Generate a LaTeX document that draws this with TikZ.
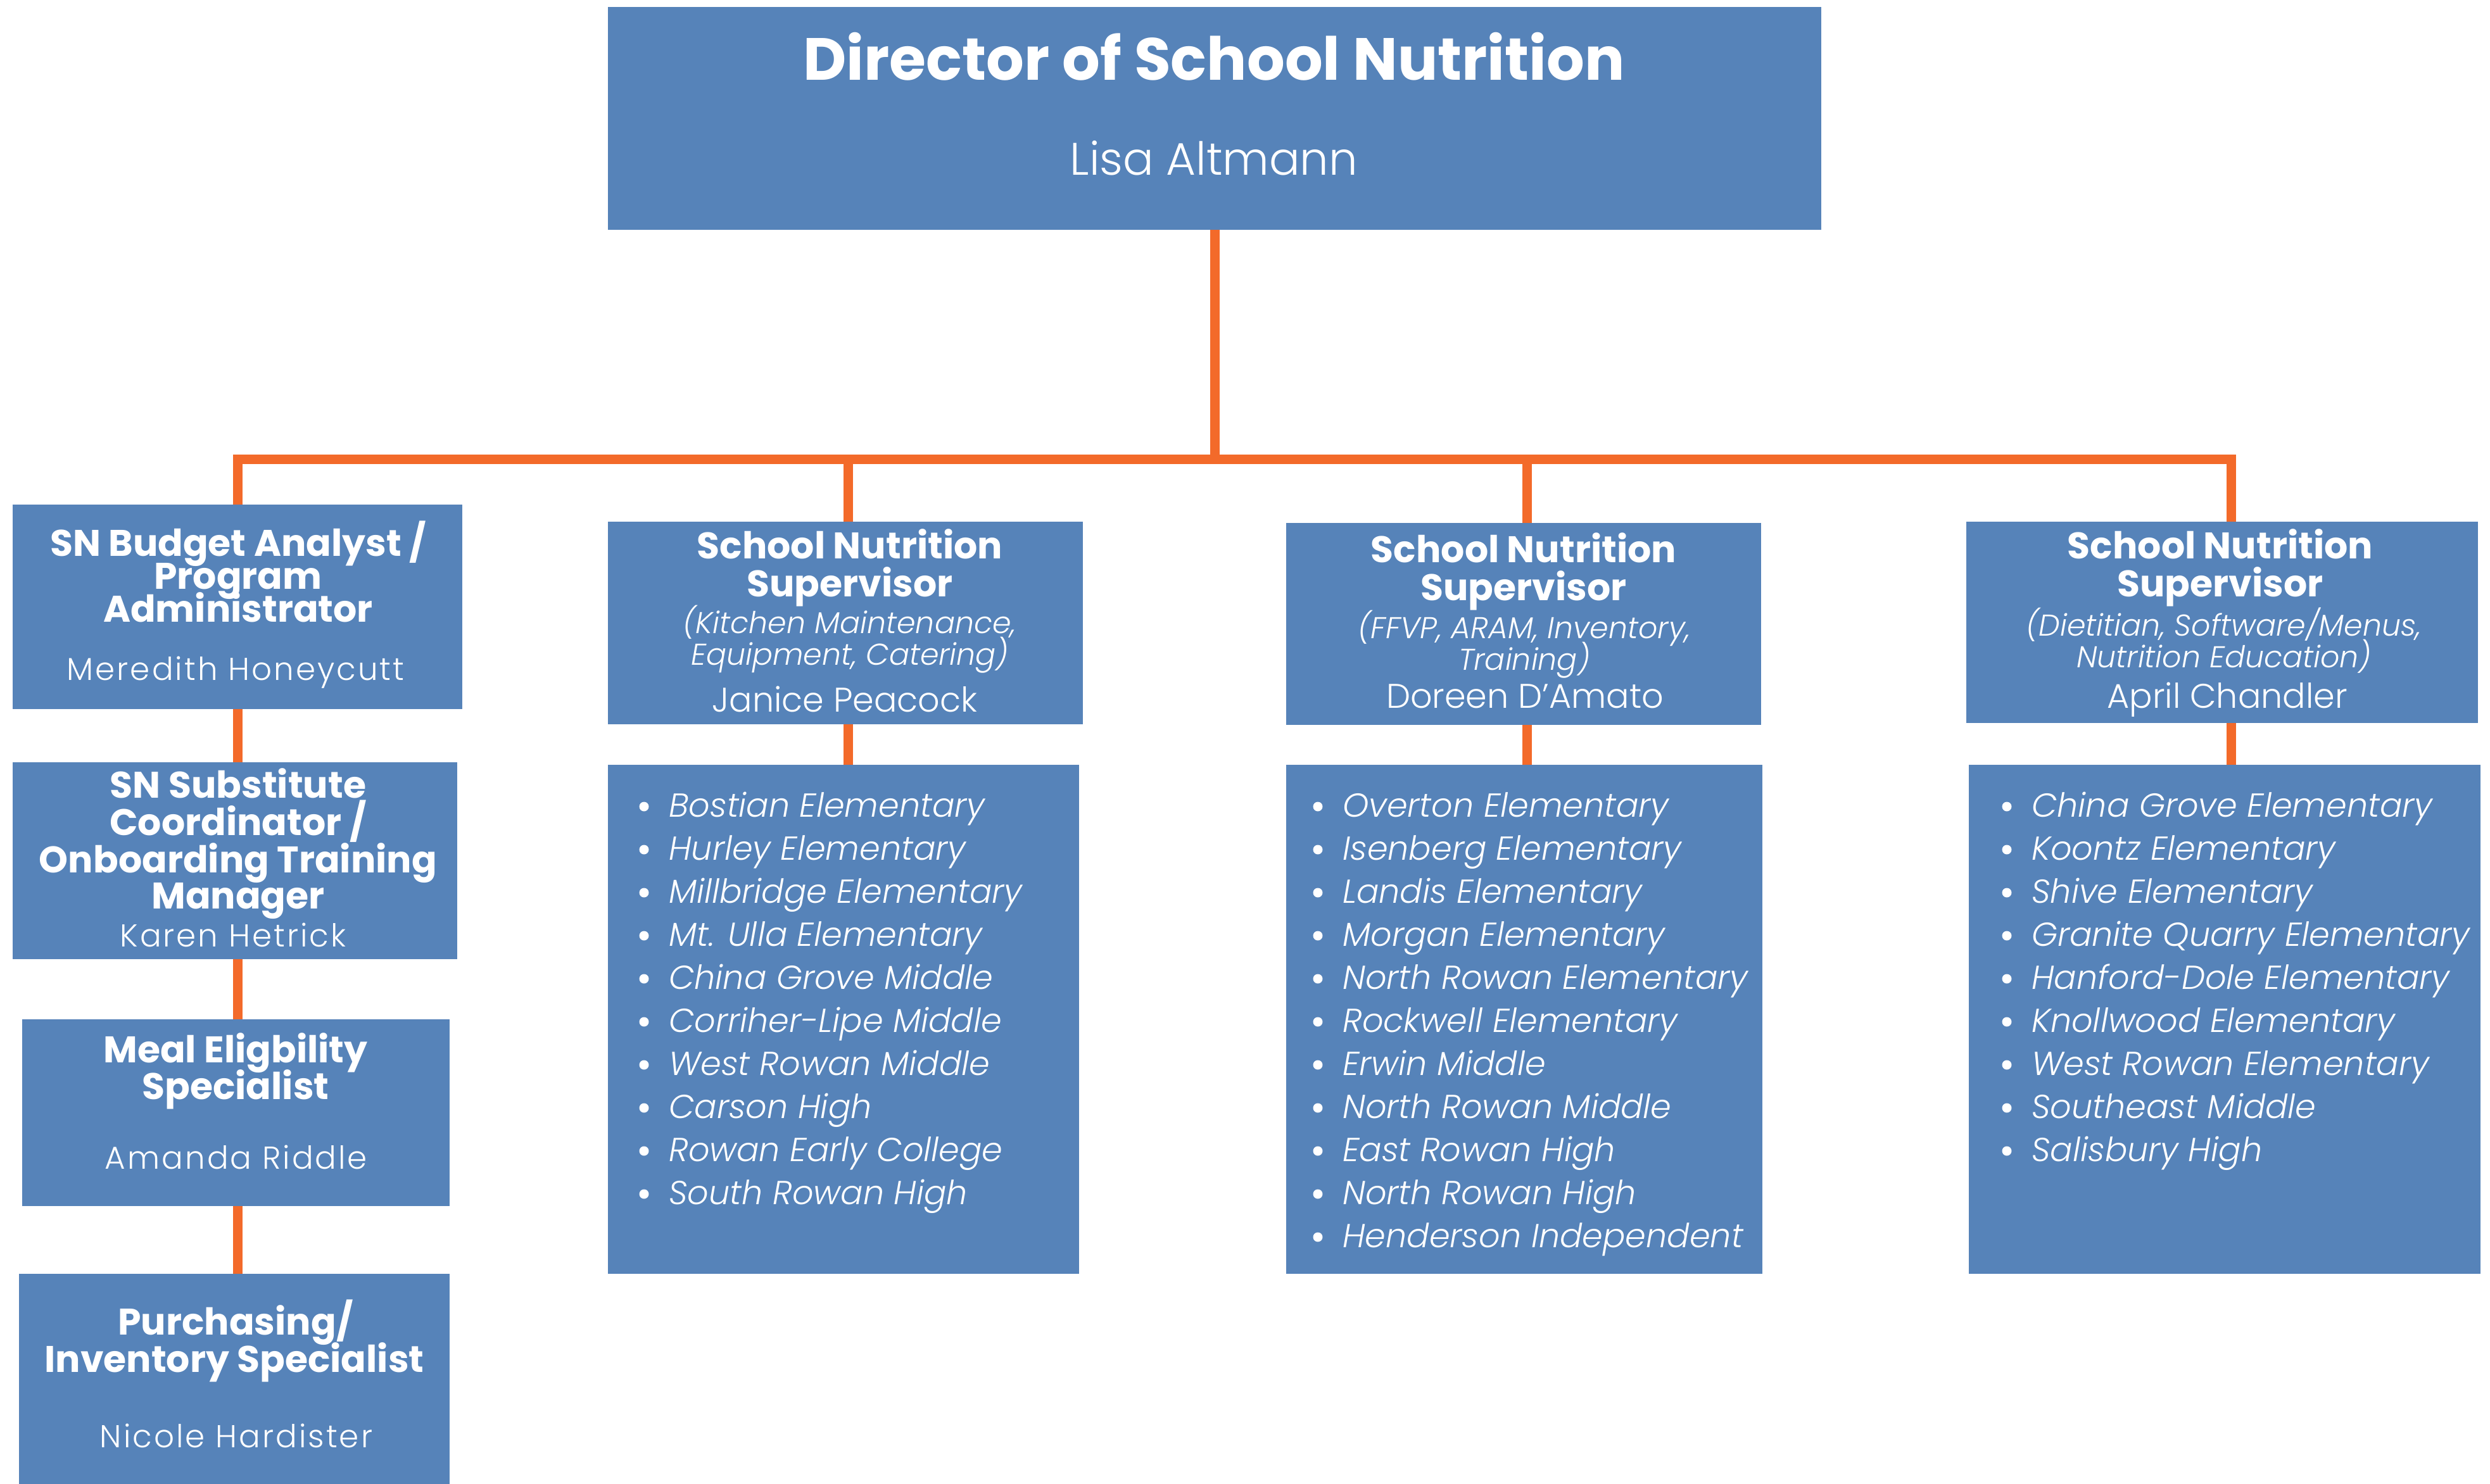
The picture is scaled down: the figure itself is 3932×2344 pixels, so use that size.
\documentclass[tikz,border=0pt]{standalone}
\usepackage{fontspec}
\setmainfont{Poppins}
\newfontfamily\plight{Poppins Light}[ItalicFont={Poppins Light Italic}]
\newfontfamily\plightsp{Poppins Light}[LetterSpace=6]
\definecolor{boxblue}{HTML}{5683B9}
\definecolor{orng}{HTML}{F36A2A}
\begin{document}
\begin{tikzpicture}[x=1pt,y=-1pt,
  box/.style={rectangle, fill=boxblue, draw=none, inner sep=0pt},
  link/.style={draw=orng, line width=15pt},
  txt/.style={text=white, inner sep=0pt, anchor=base},
  dtitle/.style={txt, font=\fontsize{94}{100}\selectfont\bfseries},
  dname/.style={txt, font=\plight\fontsize{72}{80}\selectfont},
  ltitle/.style={txt, font=\fontsize{58.5}{60}\selectfont\bfseries},
  lname/.style={txt, font=\plightsp\fontsize{50}{60}\selectfont},
  stitle/.style={txt, font=\fontsize{58.5}{60}\selectfont\bfseries},
  ssub/.style={txt, font=\plight\itshape\fontsize{47.5}{50}\selectfont},
  sname/.style={txt, font=\plight\fontsize{54}{60}\selectfont},
  item/.style={txt, anchor=base west, font=\plight\itshape\fontsize{52.5}{60}\selectfont},
  dot/.style={circle, fill=white, draw=none, inner sep=0pt, minimum size=15pt},
]
\useasboundingbox (0,0) rectangle (3932,2344);
\fill[white] (0,0) rectangle (3932,2344);

% boxes
\node[box, minimum width=1916pt, minimum height=352pt] (dir) at (1918,187) {};
\node[box, minimum width=710pt, minimum height=323pt] (lb1) at (375,958.5) {};
\node[box, minimum width=702pt, minimum height=311pt] (lb2) at (371,1359.5) {};
\node[box, minimum width=675pt, minimum height=295pt] (lb3) at (372.5,1757.5) {};
\node[box, minimum width=680pt, minimum height=332pt] (lb4) at (370,2178) {};
\node[box, minimum width=750pt, minimum height=320pt] (s1) at (1335,984) {};
\node[box, minimum width=744pt, minimum height=804pt] (l1) at (1332,1610) {};
\node[box, minimum width=750pt, minimum height=319pt] (s2) at (2406,985.5) {};
\node[box, minimum width=752pt, minimum height=804pt] (l2) at (2407,1610) {};
\node[box, minimum width=808pt, minimum height=318pt] (s3) at (3509,983) {};
\node[box, minimum width=808pt, minimum height=804pt] (l3) at (3513,1610) {};

% connectors
\coordinate (bus) at (1918,725);
\coordinate (lc) at (375,725);
\draw[link] (dir.south) -- (bus);
\draw[link] (lb1.north -| lc) |- (bus) -| ([xshift=14pt]s3.north);
\draw[link] ([xshift=4pt]s1.north) -- ([xshift=4pt]s1.north |- bus);
\draw[link] ([xshift=5pt]s2.north) -- ([xshift=5pt]s2.north |- bus);
\draw[link] ([xshift=4pt]s1.south) -- ([xshift=4pt]l1.north -| s1.south);
\draw[link] ([xshift=5pt]s2.south) -- ([xshift=5pt]l2.north -| s2.south);
\draw[link] ([xshift=14pt]s3.south) -- ([xshift=14pt]l3.north -| s3.south);
\draw[link] (lb1.south -| lc) -- (lb2.north -| lc);
\draw[link] (lb2.south -| lc) -- (lb3.north -| lc);
\draw[link] (lb3.south -| lc) -- (lb4.north -| lc);

% director
\node[dtitle] (dt) at (1917,127) {Director of School Nutrition};
\node[dname] (dn) at (1917,276) {Lisa Altmann};

% left column
\node[ltitle] (a1) at (376,878) {SN Budget Analyst /};
\node[ltitle] (a2) at (376,930) {Program};
\node[ltitle] (a3) at (376,982) {Administrator};
\node[lname] (a4) at (372,1074) {Meredith Honeycutt};
\node[ltitle] (b1) at (376,1260) {SN Substitute};
\node[ltitle] (b2) at (376,1319) {Coordinator /};
\node[ltitle] (b3) at (376,1378) {Onboarding Training};
\node[ltitle] (b4) at (376,1435) {Manager};
\node[lname] (b5) at (368,1495) {Karen Hetrick};
\node[ltitle] (c1) at (372,1678) {Meal Eligbility};
\node[ltitle] (c2) at (372,1736) {Specialist};
\node[lname] (c3) at (373,1846) {Amanda Riddle};
\node[ltitle] (d1) at (372,2108) {Purchasing/};
\node[ltitle] (d2) at (370,2167) {Inventory Specialist};
\node[lname] (d3) at (373,2286) {Nicole Hardister};

% supervisors
\node[stitle] (s1a) at (1342,882) {School Nutrition};
\node[stitle] (s1b) at (1342,942) {Supervisor};
\node[ssub] (s1c) at (1342,1000) {(Kitchen Maintenance,};
\node[ssub] (s1d) at (1342,1050) {Equipment, Catering)};
\node[sname] (s1e) at (1334,1124) {Janice Peacock};

\node[stitle] (s2a) at (2406,888) {School Nutrition};
\node[stitle] (s2b) at (2406,948) {Supervisor};
\node[ssub] (s2c) at (2407,1008) {(FFVP, ARAM, Inventory,};
\node[ssub] (s2d) at (2407,1058) {Training)};
\node[sname] (s2e) at (2408,1118) {Doreen D’Amato};

\node[stitle] (s3a) at (3506,882) {School Nutrition};
\node[stitle] (s3b) at (3506,942) {Supervisor};
\node[ssub] (s3c) at (3512,1004) {(Dietitian, Software/Menus,};
\node[ssub] (s3d) at (3512,1054) {Nutrition Education)};
\node[sname] (s3e) at (3517,1118) {April Chandler};

% lists
\foreach \t [count=\i from 0] in {Bostian Elementary, Hurley Elementary, Millbridge Elementary, Mt. Ulla Elementary, China Grove Middle, Corriher-Lipe Middle, West Rowan Middle, Carson High, Rowan Early College, South Rowan High}
  {\node[dot] (da\i) at (1017,{1274+68*\i}) {};
   \node[item] (la\i) at (1056,{1290+68*\i}) {\t};}
\foreach \t [count=\i from 0] in {Overton Elementary, Isenberg Elementary, Landis Elementary, Morgan Elementary, North Rowan Elementary, Rockwell Elementary, Erwin Middle, North Rowan Middle, East Rowan High, North Rowan High, Henderson Independent}
  {\node[dot] (dx\i) at (2081,{1274+68*\i}) {};
   \node[item] (lx\i) at (2120,{1290+68*\i}) {\t};}
\foreach \t [count=\i from 0] in {China Grove Elementary, Koontz Elementary, Shive Elementary, Granite Quarry Elementary, Hanford-Dole Elementary, Knollwood Elementary, West Rowan Elementary, Southeast Middle, Salisbury High}
  {\node[dot] (dy\i) at (3169,{1274+68*\i}) {};
   \node[item] (ly\i) at (3208,{1290+68*\i}) {\t};}
\end{tikzpicture}
\end{document}
